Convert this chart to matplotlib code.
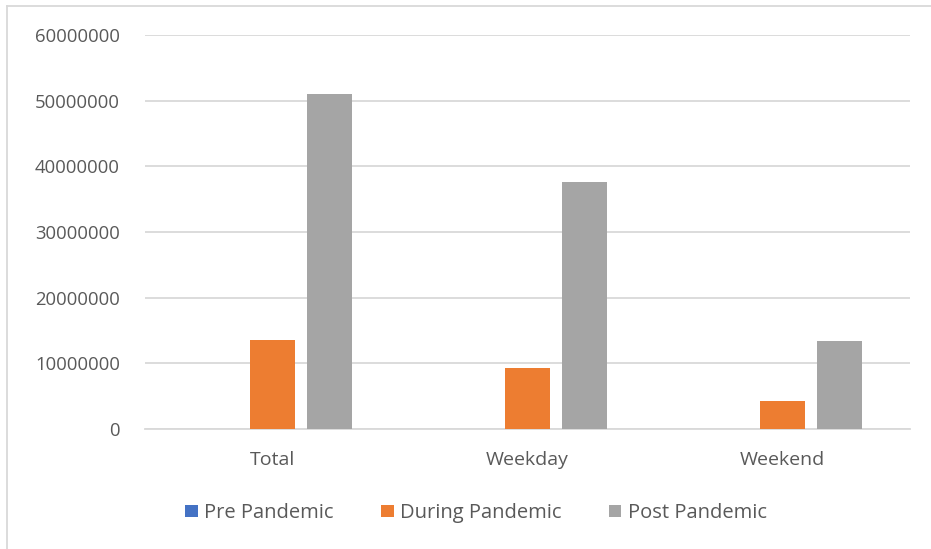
"""Clustered bar chart of ridership by period."""

import matplotlib

matplotlib.use("Agg")
import matplotlib.pyplot as plt
import numpy as np
from matplotlib.lines import Line2D
from matplotlib.patches import Patch

categories = ["Total", "Weekday", "Weekend"]
series_names = ["Pre Pandemic", "During Pandemic", "Post Pandemic"]
pre_pandemic = [0, 0, 0]
during_pandemic = [13550000, 9300000, 4260000]
post_pandemic = [51000000, 37600000, 13400000]
y_ticks = [0, 10000000, 20000000, 30000000, 40000000, 50000000, 60000000]

colors = ["#4472C4", "#ED7D31", "#A5A5A5"]
text_color = "#595959"
plt.rcParams["font.family"] = ["Open Sans", "DejaVu Sans"]

fig = plt.figure(figsize=(9.31, 5.49), dpi=100)
ax = fig.add_axes([145 / 931, 1 - 429 / 549, 765 / 931, 394 / 549])

x = np.arange(len(categories))
width = 0.176
step = 0.2235
for i, (values, color) in enumerate(zip([pre_pandemic, during_pandemic, post_pandemic], colors)):
    ax.bar(x + (i - 1) * step, values, width=width, color=color, zorder=3)

ax.set_xlim(-0.5, 2.5)
ax.set_ylim(0, 60000000)
ax.set_yticks(y_ticks)
ax.set_yticklabels([str(v) for v in y_ticks])
ax.set_xticks(x)
ax.set_xticklabels(categories)
ax.tick_params(axis="both", length=0, labelsize=13.3, colors=text_color)
ax.tick_params(axis="x", labelsize=14, pad=16)
ax.tick_params(axis="y", pad=18)
ax.grid(axis="y", color="#D9D9D9", linewidth=1.3, zorder=0)
for side in ["top", "right", "left"]:
    ax.spines[side].set_visible(False)
ax.spines["bottom"].set_color("#D9D9D9")
ax.spines["bottom"].set_linewidth(1.3)

handles = [Patch(facecolor=c, label=n) for c, n in zip(colors, series_names)]
fig.legend(
    handles=handles,
    loc="center",
    bbox_to_anchor=(476 / 931, 1 - 513 / 549),
    ncol=3,
    frameon=False,
    fontsize=14.5,
    handlelength=0.6,
    handleheight=0.6,
    handletextpad=0.3,
    columnspacing=2.4,
    labelcolor=text_color,
)

# chart frame, partly cut off at the right and bottom
fig.add_artist(Line2D([7 / 931, 1], [1 - 6 / 549, 1 - 6 / 549], color="#D9D9D9", linewidth=1.3))
fig.add_artist(Line2D([7 / 931, 7 / 931], [0, 1 - 6 / 549], color="#D9D9D9", linewidth=1.3))

fig.savefig("out.png", dpi=100)
